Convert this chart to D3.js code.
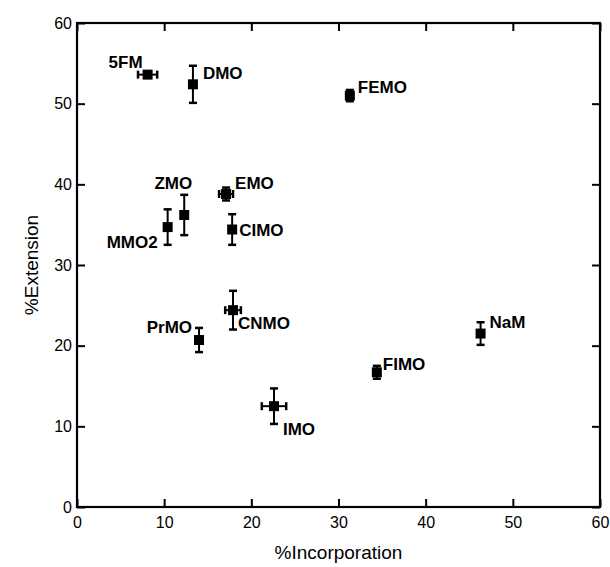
<!DOCTYPE html>
<html>
<head>
<meta charset="utf-8">
<script src="https://cdn.jsdelivr.net/npm/d3@7"></script>
<style>
  html, body { margin: 0; padding: 0; background: #fff; }
  svg { display: block; font-family: "Liberation Sans", Arial, sans-serif; }
</style>
</head>
<body>
<svg id="chart" width="610" height="567"></svg>
<script>
// Mutant names and their measured values
const names      = ["5FM", "DMO", "FEMO", "ZMO", "MMO2", "EMO", "CIMO", "CNMO", "PrMO", "IMO", "NaM", "FIMO"];
const incorp     = [8.1, 13.3, 31.3, 12.3, 10.4, 17.1, 17.8, 17.9, 14.0, 22.6, 46.3, 34.4];
const incorpErr  = [1.1, 0, 0, 0, 0, 0.8, 0, 0.9, 0, 1.4, 0, 0];
const extension  = [53.6, 52.4, 51.0, 36.2, 34.7, 38.8, 34.4, 24.4, 20.7, 12.5, 21.5, 16.7];
const extErr     = [0, 2.3, 0.7, 2.5, 2.2, 0.8, 1.9, 2.4, 1.5, 2.2, 1.4, 0.8];
const xTicks     = [0, 10, 20, 30, 40, 50, 60];
const yTicks     = [0, 10, 20, 30, 40, 50, 60];

// Label placement around each marker (anchor, dx, dy in px)
const labelPlace = {
  "5FM":  ["end",   -5,  -7],
  "DMO":  ["start", 10,  -5],
  "FEMO": ["start",  8,  -3],
  "ZMO":  ["end",    8, -26],
  "MMO2": ["end",  -10,  21],
  "EMO":  ["start",  9,  -5],
  "CIMO": ["start",  7,   6],
  "CNMO": ["start",  5,  19],
  "PrMO": ["end",   -7,  -7],
  "IMO":  ["start",  9,  29],
  "NaM":  ["start",  9,  -6],
  "FIMO": ["start",  6,  -2]
};

const data = names.map((n, i) => ({
  name: n, x: incorp[i], xe: incorpErr[i], y: extension[i], ye: extErr[i]
}));

const margin = { top: 23, right: 10, bottom: 60, left: 77 };
const W = 610, H = 567;
const iw = W - margin.left - margin.right;
const ih = H - margin.top - margin.bottom;

const svg = d3.select("#chart");
const g = svg.append("g").attr("transform", `translate(${margin.left},${margin.top})`);

const x = d3.scaleLinear().domain([0, 60]).range([0, iw]);
const y = d3.scaleLinear().domain([0, 60]).range([ih, 0]);

const tickLen = 8;
function styleAxis(sel) {
  sel.select(".domain").remove();
  sel.selectAll(".tick line").attr("stroke", "#000").attr("stroke-width", 2);
  sel.selectAll(".tick text").attr("fill", "#000").style("font-size", "16px");
}

// Bottom axis with inward ticks
g.append("g").attr("transform", `translate(0,${ih})`)
  .call(d3.axisBottom(x).tickValues(xTicks).tickSize(-tickLen).tickPadding(10))
  .call(styleAxis);
// Top axis: ticks only
g.append("g")
  .call(d3.axisTop(x).tickValues(xTicks).tickSize(-tickLen).tickFormat(""))
  .call(styleAxis);
// Left axis with inward ticks
g.append("g")
  .call(d3.axisLeft(y).tickValues(yTicks).tickSize(-tickLen).tickPadding(5))
  .call(styleAxis);
// Right axis: ticks only
g.append("g").attr("transform", `translate(${iw},0)`)
  .call(d3.axisRight(y).tickValues(yTicks).tickSize(-tickLen).tickFormat(""))
  .call(styleAxis);

// Frame
g.append("rect")
  .attr("x", 0).attr("y", 0).attr("width", iw).attr("height", ih)
  .attr("fill", "none").attr("stroke", "#000").attr("stroke-width", 2.2);

// Axis titles
svg.append("text")
  .attr("x", margin.left + iw / 2).attr("y", 559)
  .attr("text-anchor", "middle")
  .style("font-size", "19px")
  .text("%Incorporation");
svg.append("text")
  .attr("transform", `translate(38,${margin.top + ih / 2}) rotate(-90)`)
  .attr("text-anchor", "middle")
  .style("font-size", "19px")
  .text("%Extension");

const cap = 4;
const pts = g.append("g").selectAll("g.pt").data(data).join("g").attr("class", "pt");

// Vertical error bars
pts.filter(d => d.ye > 0).each(function (d) {
  const s = d3.select(this);
  const cx = x(d.x), y1 = y(d.y - d.ye), y2 = y(d.y + d.ye);
  s.append("line").attr("x1", cx).attr("x2", cx).attr("y1", y1).attr("y2", y2)
    .attr("stroke", "#000").attr("stroke-width", 2);
  [y1, y2].forEach(yy => s.append("line")
    .attr("x1", cx - cap).attr("x2", cx + cap).attr("y1", yy).attr("y2", yy)
    .attr("stroke", "#000").attr("stroke-width", 2.5));
});
// Horizontal error bars
pts.filter(d => d.xe > 0).each(function (d) {
  const s = d3.select(this);
  const cy = y(d.y), x1 = x(d.x - d.xe), x2 = x(d.x + d.xe);
  s.append("line").attr("x1", x1).attr("x2", x2).attr("y1", cy).attr("y2", cy)
    .attr("stroke", "#000").attr("stroke-width", 2);
  [x1, x2].forEach(xx => s.append("line")
    .attr("x1", xx).attr("x2", xx).attr("y1", cy - cap).attr("y2", cy + cap)
    .attr("stroke", "#000").attr("stroke-width", 2.5));
});

// Square markers
const ms = 10;
pts.append("rect")
  .attr("x", d => x(d.x) - ms / 2).attr("y", d => y(d.y) - ms / 2)
  .attr("width", ms).attr("height", ms)
  .attr("fill", "#000");

// Point labels
pts.append("text")
  .attr("x", d => x(d.x) + labelPlace[d.name][1])
  .attr("y", d => y(d.y) + labelPlace[d.name][2])
  .attr("text-anchor", d => labelPlace[d.name][0])
  .style("font-size", "17px").style("font-weight", "bold")
  .text(d => d.name);
</script>
</body>
</html>
